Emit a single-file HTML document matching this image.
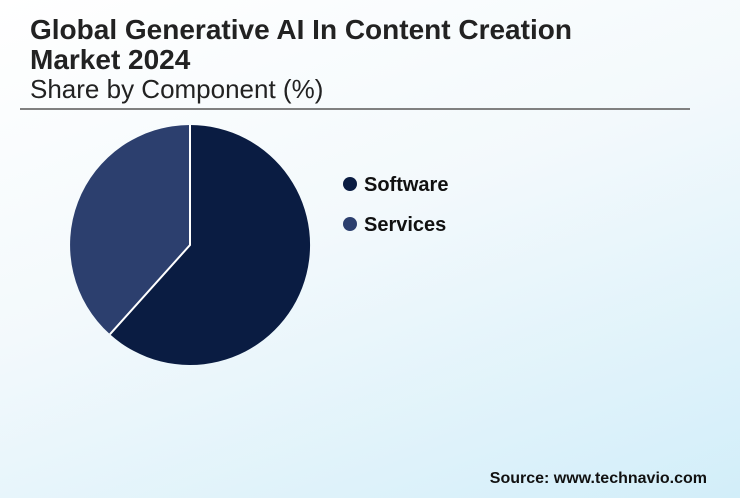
<!DOCTYPE html>
<html><head><style>
html,body{margin:0;padding:0}
body{width:740px;height:498px;overflow:hidden;position:relative;font-family:"Liberation Sans",sans-serif;
background:linear-gradient(160deg,#ffffff 0%,#f3f9fc 45%,#d2eef9 100%);}
.t{position:absolute;left:30px;font-weight:bold;font-size:28px;color:#222;line-height:30px}
.s{position:absolute;left:30px;top:74px;font-size:26px;color:#222}
.rule{position:absolute;left:20px;top:108px;width:670px;height:2px;background:#808080}
.lg{position:absolute;left:343px;font-weight:bold;font-size:20px;color:#111}
.lg i{display:inline-block;width:14px;height:14px;border-radius:50%;margin-right:7px;vertical-align:0px}
.src{position:absolute;right:33px;top:470px;font-weight:bold;font-size:16px;color:#111}
</style></head><body>
<div class="t" style="top:15px">Global Generative AI In Content Creation<br>Market 2024</div>
<div class="s">Share by Component (%)</div>
<div class="rule"></div>
<svg width="740" height="498" style="position:absolute;left:0;top:0">
<path d="M190,245 L190,125 A120,120 0 1 1 109.9,334.3 Z" fill="#0a1c42"/>
<path d="M190,245 L109.9,334.3 A120,120 0 0 1 190,125 Z" fill="#2c3f6e"/>
<path d="M190,125 L190,245 L109.9,334.3" fill="none" stroke="#fff" stroke-width="2"/>
</svg>
<div class="lg" style="top:174px"><i style="background:#0a1c42"></i>Software</div>
<div class="lg" style="top:214px"><i style="background:#2c3f6e"></i>Services</div>
<div class="src">Source: www.technavio.com</div>
</body></html>
